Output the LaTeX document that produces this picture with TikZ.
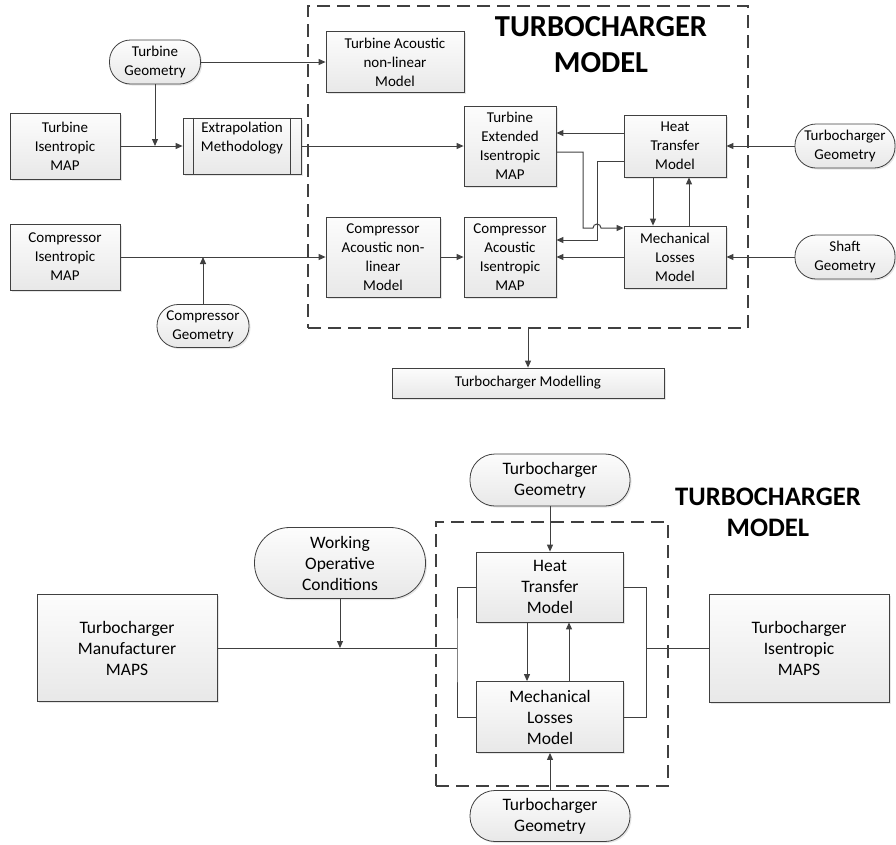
\documentclass[tikz,border=0pt]{standalone}
\usepackage{fontspec}
\setmainfont{Carlito}
\usetikzlibrary{arrows.meta,shadows}
\definecolor{lc}{HTML}{404040}
\tikzset{
  >={Triangle[length=7pt,width=6pt]},
  conn/.style={draw=lc, line width=1pt},
  block/.style={draw=lc, line width=0.8pt, top color=gray!2, bottom color=gray!18,
    drop shadow={opacity=0.2, shadow xshift=1.5pt, shadow yshift=-1.5pt},
    align=center, inner sep=1pt, font=\fontsize{15}{19}\selectfont},
  term/.style={block, rounded corners=21pt},
  bigblock/.style={block, font=\fontsize{17.5}{21}\selectfont},
  bigterm/.style={bigblock, rounded corners=25pt},
  modelbox/.style={draw=lc, line width=1.3pt, dash pattern=on 13pt off 7pt},
  bigtitle/.style={align=center, font=\bfseries\fontsize{30.5}{36}\selectfont},
}
\begin{document}
\begin{tikzpicture}[x=1pt, y=-1pt]
  \useasboundingbox (0,0) rectangle (896,844);
  % ---- upper diagram
  \node[modelbox, minimum width=440, minimum height=322] (model) at (528,167) {};
  \node[bigtitle] (title) at (601,45) {TURBOCHARGER\\MODEL};
  \node[term, minimum width=91, minimum height=44] (tg) at (155,62) {Turbine\\Geometry};
  \node[block, minimum width=138, minimum height=61] (tan) at (395,62) {Turbine Acoustic\\non-linear\\Model};
  \node[block, minimum width=110, minimum height=66] (tim) at (65,146) {Turbine\\Isentropic\\MAP};
  \node[block, minimum width=118, minimum height=56] (ext) at (242,146) {Extrapolation\\Methodology\\\mbox{}};
  \draw[lc, line width=0.8pt] ([xshift=11]ext.north west) -- ([xshift=11]ext.south west)
    ([xshift=-11]ext.north east) -- ([xshift=-11]ext.south east);
  \node[block, minimum width=92, minimum height=80] (te) at (510,146) {Turbine\\Extended\\Isentropic\\MAP};
  \node[block, minimum width=102, minimum height=62] (ht) at (675,146) {Heat\\Transfer\\Model};
  \node[term, minimum width=100, minimum height=44] (tcg) at (845,146) {Turbocharger\\Geometry};
  \node[block, minimum width=110, minimum height=66] (cim) at (65,257) {Compressor\\Isentropic\\MAP};
  \node[block, minimum width=114, minimum height=80] (can) at (383,257) {Compressor\\Acoustic non-\\linear\\Model};
  \node[block, minimum width=92, minimum height=80] (cai) at (510,257) {Compressor\\Acoustic\\Isentropic\\MAP};
  \node[block, minimum width=102, minimum height=62] (ml) at (675,257) {Mechanical\\Losses\\Model};
  \node[term, minimum width=100, minimum height=44] (sg) at (845,257) {Shaft\\Geometry};
  \node[term, minimum width=92, minimum height=43] (cg) at (203,326) {Compressor\\Geometry};
  \node[block, minimum width=272, minimum height=30] (tm) at (528,383) {Turbocharger Modelling};
  \coordinate (jt) at (155,146);
  \coordinate (jc) at (203,257);

  \draw[conn, ->] (tg) -- (tan);
  \draw[conn, ->] (tg) -- (jt);
  \draw[conn, ->] (tim) -- (ext);
  \draw[conn, ->] (ext) -- (te);
  \draw[conn, ->] ([yshift=13]ht.west) -- ([yshift=13]te.east);
  \draw[conn, ->] (tcg) -- (ht);
  \draw[conn, ->] ([yshift=-15]ht.west) -- (597,161) -- (597,240) -- ([yshift=17]cai.east);
  \draw[conn, ->] ([yshift=-6]te.east) -- (583,152) -- (583,228) -- (593,228)
    arc[start angle=180, end angle=0, radius=4pt] -- ([yshift=29]ml.west);
  \draw[conn, ->] ([xshift=-22]ht.south) -- ([xshift=-22]ml.north);
  \draw[conn, ->] ([xshift=14]ml.north) -- ([xshift=14]ht.south);
  \draw[conn, ->] (ml) -- (cai);
  \draw[conn, ->] (sg) -- (ml);
  \draw[conn, ->] (cim) -- (can);
  \draw[conn, ->] (cg) -- (jc);
  \draw[conn, ->] (can) -- (cai);
  \draw[conn, ->] (model.south) -- (tm.north);

  % ---- lower diagram
  \node[modelbox, minimum width=232, minimum height=264] (model2) at (552,654) {};
  \node[bigtitle, font=\bfseries\fontsize{26.7}{31}\selectfont] (title2) at (768,512) {TURBOCHARGER\\MODEL};
  \node[bigterm, minimum width=160, minimum height=52] (tgt) at (550,480) {Turbocharger\\Geometry};
  \node[bigblock, minimum width=147, minimum height=70] (ht2) at (550,587) {Heat\\Transfer\\Model};
  \node[bigblock, minimum width=147, minimum height=71] (ml2) at (550,717) {Mechanical\\Losses\\Model};
  \node[bigterm, minimum width=160, minimum height=51] (tgb) at (550,816) {Turbocharger\\Geometry};
  \node[bigblock, minimum width=180, minimum height=107] (tmm) at (127,648) {Turbocharger\\Manufacturer\\MAPS};
  \node[bigterm, minimum width=171, minimum height=71, rounded corners=35pt] (woc) at (340,563) {Working\\Operative\\Conditions};
  \node[bigblock, minimum width=180, minimum height=108] (tis) at (799,648) {Turbocharger\\Isentropic\\MAPS};
  \coordinate (jl) at (457,648);
  \coordinate (jr) at (646,648);
  \coordinate (jw) at (340,648);

  \draw[conn, ->] (tgt) -- (ht2);
  \draw[conn, ->] ([xshift=-23]ht2.south) -- ([xshift=-23]ml2.north);
  \draw[conn, ->] ([xshift=19]ml2.north) -- ([xshift=19]ht2.south);
  \draw[conn, ->] (tgb) -- (ml2);
  \draw[conn] (ht2.west) -| (jl) |- (ml2.west);
  \draw[conn] (ht2.east) -| (jr) |- (ml2.east);
  \draw[conn] (tmm.east) -- (jl);
  \draw[conn] (jr) -- (tis.west);
  \draw[conn, ->] (woc) -- (jw);
\end{tikzpicture}
\end{document}
